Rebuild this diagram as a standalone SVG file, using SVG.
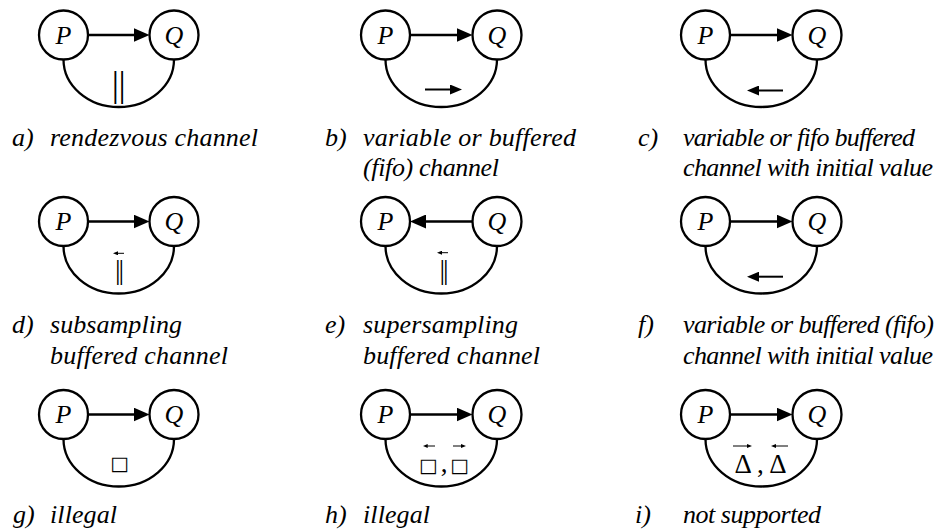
<svg xmlns="http://www.w3.org/2000/svg" width="939" height="531" viewBox="0 0 939 531">
<style>
.nd{fill:#fff;stroke:#000;stroke-width:2.3}
.nt{font-family:"Liberation Serif","Times New Roman",serif;font-style:italic;font-size:26px;text-anchor:middle;fill:#000}
.cn{fill:none;stroke:#000;stroke-width:2.3}
.sm{fill:none;stroke:#000;stroke-width:2}
.tn{fill:none;stroke:#000;stroke-width:1}
.lb{font-family:"Liberation Serif","Times New Roman",serif;font-style:italic;font-size:26px;fill:#000}
.bar{font-family:"Liberation Serif","Times New Roman",serif;font-size:36px;text-anchor:middle;fill:#000}
.bar2{font-family:"Liberation Serif","Times New Roman",serif;font-size:28px;text-anchor:middle;fill:#000;letter-spacing:-2.2px}
.sq{font-family:"DejaVu Sans",sans-serif;font-size:19.5px;text-anchor:middle;fill:#000}
.dl{font-family:"Liberation Serif","Times New Roman",serif;font-size:27px;text-anchor:middle;fill:#000}
</style>
<defs>
<marker id="ah" markerUnits="userSpaceOnUse" markerWidth="16" markerHeight="14" viewBox="0 0 16 14" refX="6" refY="7" orient="auto"><path d="M0,0 L16,7 L0,14 z" fill="#000"/></marker>
<marker id="sa" markerUnits="userSpaceOnUse" markerWidth="12" markerHeight="10" viewBox="0 0 12 10" refX="4" refY="5" orient="auto"><path d="M0,0 L12,5 L0,10 z" fill="#000"/></marker>
<marker id="ta" markerUnits="userSpaceOnUse" markerWidth="5" markerHeight="4" viewBox="0 0 5 4" refX="1" refY="2" orient="auto"><path d="M0,0 L5,2 L0,4 z" fill="#000"/></marker>
</defs>

<g id="connectors">
<path class="cn" d="M88,35 L139.5,35" marker-end="url(#ah)"/>
<path class="cn" d="M63.5,59.5 A55.25 47.5 0 0 0 174,59.5"/>
<path class="cn" d="M410,35 L462.5,35" marker-end="url(#ah)"/>
<path class="cn" d="M385.5,59.5 A55.75 47.5 0 0 0 497,59.5"/>
<path class="cn" d="M730,35 L782.5,35" marker-end="url(#ah)"/>
<path class="cn" d="M705.5,59.5 A55.75 47.5 0 0 0 817,59.5"/>
<path class="cn" d="M88,221.5 L139.5,221.5" marker-end="url(#ah)"/>
<path class="cn" d="M63.5,246 A55.25 47.5 0 0 0 174,246"/>
<path class="cn" d="M472.5,221.5 L420,221.5" marker-end="url(#ah)"/>
<path class="cn" d="M385.5,246 A55.75 47.5 0 0 0 497,246"/>
<path class="cn" d="M730,221.5 L782.5,221.5" marker-end="url(#ah)"/>
<path class="cn" d="M705.5,246 A55.75 47.5 0 0 0 817,246"/>
<path class="cn" d="M88,414.5 L139.5,414.5" marker-end="url(#ah)"/>
<path class="cn" d="M63.5,439 A55.25 47.5 0 0 0 174,439"/>
<path class="cn" d="M410,414.5 L462.5,414.5" marker-end="url(#ah)"/>
<path class="cn" d="M385.5,439 A55.75 47.5 0 0 0 497,439"/>
<path class="cn" d="M730,414.5 L782.5,414.5" marker-end="url(#ah)"/>
<path class="cn" d="M705.5,439 A55.75 47.5 0 0 0 817,439"/>
</g>

<g id="a-P"><circle class="nd" cx="63.5" cy="35" r="24.5"/><text class="nt" x="63.5" y="43.5">P</text></g>
<g id="a-Q"><circle class="nd" cx="174" cy="35" r="24.5"/><text class="nt" x="174" y="43.5">Q</text></g>
<g id="a-mark"><text class="bar" x="118.5" y="96.3" letter-spacing="-0.5">||</text></g>
<g id="a-label"><text class="lb" x="12" y="146">a)</text><text class="lb" x="50" y="146" textLength="208">rendezvous channel</text></g>

<g id="b-P"><circle class="nd" cx="385.5" cy="35" r="24.5"/><text class="nt" x="385.5" y="43.5">P</text></g>
<g id="b-Q"><circle class="nd" cx="497" cy="35" r="24.5"/><text class="nt" x="497" y="43.5">Q</text></g>
<g id="b-mark"><path class="sm" d="M425,89.5 L454,89.5" marker-end="url(#sa)"/></g>
<g id="b-label"><text class="lb" x="325" y="146">b)</text><text class="lb" x="363" y="146" textLength="213">variable or buffered</text><text class="lb" x="363" y="175.5" textLength="136">(fifo) channel</text></g>

<g id="c-P"><circle class="nd" cx="705.5" cy="35" r="24.5"/><text class="nt" x="705.5" y="43.5">P</text></g>
<g id="c-Q"><circle class="nd" cx="817" cy="35" r="24.5"/><text class="nt" x="817" y="43.5">Q</text></g>
<g id="c-mark"><path class="sm" d="M783,90.5 L755,90.5" marker-end="url(#sa)"/></g>
<g id="c-label"><text class="lb" x="638" y="146">c)</text><text class="lb" x="683" y="146" textLength="232">variable or fifo buffered</text><text class="lb" x="683" y="175.5" textLength="250">channel with initial value</text></g>

<g id="d-P"><circle class="nd" cx="63.5" cy="221.5" r="24.5"/><text class="nt" x="63.5" y="230">P</text></g>
<g id="d-Q"><circle class="nd" cx="174" cy="221.5" r="24.5"/><text class="nt" x="174" y="230">Q</text></g>
<g id="d-mark"><path class="tn" d="M124,253.3 L117,253.3" marker-end="url(#ta)"/><text class="bar2" x="118.5" y="279">||</text></g>
<g id="d-label"><text class="lb" x="12" y="333">d)</text><text class="lb" x="50" y="333" textLength="132">subsampling</text><text class="lb" x="50" y="363.5" textLength="178">buffered channel</text></g>

<g id="e-P"><circle class="nd" cx="385.5" cy="221.5" r="24.5"/><text class="nt" x="385.5" y="230">P</text></g>
<g id="e-Q"><circle class="nd" cx="497" cy="221.5" r="24.5"/><text class="nt" x="497" y="230">Q</text></g>
<g id="e-mark"><path class="tn" d="M448,252.7 L441,252.7" marker-end="url(#ta)"/><text class="bar2" x="443" y="279">||</text></g>
<g id="e-label"><text class="lb" x="325" y="333">e)</text><text class="lb" x="363" y="333" textLength="155">supersampling</text><text class="lb" x="363" y="363.5" textLength="177">buffered channel</text></g>

<g id="f-P"><circle class="nd" cx="705.5" cy="221.5" r="24.5"/><text class="nt" x="705.5" y="230">P</text></g>
<g id="f-Q"><circle class="nd" cx="817" cy="221.5" r="24.5"/><text class="nt" x="817" y="230">Q</text></g>
<g id="f-mark"><path class="sm" d="M783,276.7 L755,276.7" marker-end="url(#sa)"/></g>
<g id="f-label"><text class="lb" x="638" y="333">f)</text><text class="lb" x="683" y="333" textLength="251">variable or buffered (fifo)</text><text class="lb" x="683" y="363.5" textLength="250">channel with initial value</text></g>

<g id="g-P"><circle class="nd" cx="63.5" cy="414.5" r="24.5"/><text class="nt" x="63.5" y="423">P</text></g>
<g id="g-Q"><circle class="nd" cx="174" cy="414.5" r="24.5"/><text class="nt" x="174" y="423">Q</text></g>
<g id="g-mark"><text class="sq" x="119.5" y="470">□</text></g>
<g id="g-label"><text class="lb" x="13" y="523">g)</text><text class="lb" x="50" y="523" textLength="67">illegal</text></g>

<g id="h-P"><circle class="nd" cx="385.5" cy="414.5" r="24.5"/><text class="nt" x="385.5" y="423">P</text></g>
<g id="h-Q"><circle class="nd" cx="497" cy="414.5" r="24.5"/><text class="nt" x="497" y="423">Q</text></g>
<g id="h-mark">
<path class="tn" d="M435,446 L426.7,446" marker-end="url(#ta)"/>
<path class="tn" d="M453,446 L462,446" marker-end="url(#ta)"/>
<text class="sq" x="428.3" y="472">□</text>
<text class="dl" x="444" y="472">,</text>
<text class="sq" x="459.5" y="472">□</text>
</g>
<g id="h-label"><text class="lb" x="325" y="523">h)</text><text class="lb" x="363" y="523" textLength="67">illegal</text></g>

<g id="i-P"><circle class="nd" cx="705.5" cy="414.5" r="24.5"/><text class="nt" x="705.5" y="423">P</text></g>
<g id="i-Q"><circle class="nd" cx="817" cy="414.5" r="24.5"/><text class="nt" x="817" y="423">Q</text></g>
<g id="i-mark">
<path class="tn" d="M733,446 L748,446" marker-end="url(#ta)"/>
<path class="tn" d="M788,446 L775,446" marker-end="url(#ta)"/>
<text class="dl" x="760.5" y="473">Δ , Δ</text>
</g>
<g id="i-label"><text class="lb" x="635" y="523">i)</text><text class="lb" x="683" y="523" textLength="138">not supported</text></g>
</svg>
